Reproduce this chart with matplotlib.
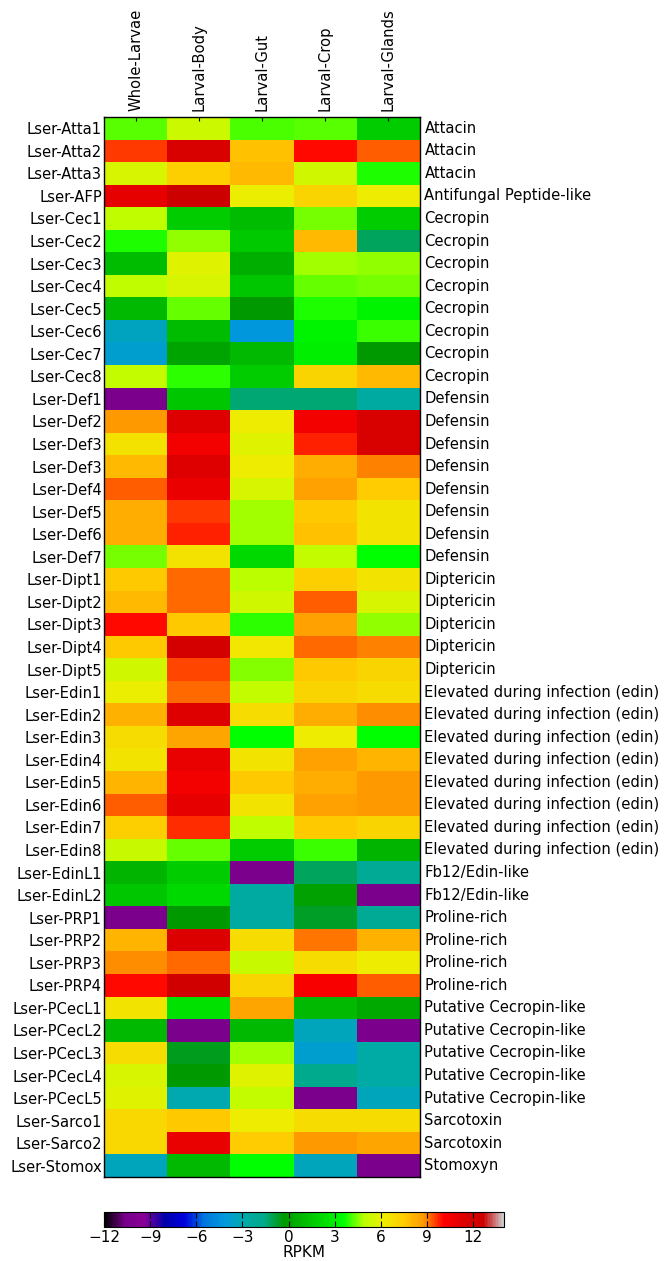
import numpy as np
import matplotlib
matplotlib.use("Agg")
import matplotlib.pyplot as plt

# tissues (columns) and genes (rows)
tissues = ["Whole-Larvae", "Larval-Body", "Larval-Gut", "Larval-Crop", "Larval-Glands"]

genes = ["Lser-Atta1", "Lser-Atta2", "Lser-Atta3", "Lser-AFP",
         "Lser-Cec1", "Lser-Cec2", "Lser-Cec3", "Lser-Cec4", "Lser-Cec5", "Lser-Cec6", "Lser-Cec7", "Lser-Cec8",
         "Lser-Def1", "Lser-Def2", "Lser-Def3", "Lser-Def3", "Lser-Def4", "Lser-Def5", "Lser-Def6", "Lser-Def7",
         "Lser-Dipt1", "Lser-Dipt2", "Lser-Dipt3", "Lser-Dipt4", "Lser-Dipt5",
         "Lser-Edin1", "Lser-Edin2", "Lser-Edin3", "Lser-Edin4", "Lser-Edin5", "Lser-Edin6", "Lser-Edin7", "Lser-Edin8",
         "Lser-EdinL1", "Lser-EdinL2",
         "Lser-PRP1", "Lser-PRP2", "Lser-PRP3", "Lser-PRP4",
         "Lser-PCecL1", "Lser-PCecL2", "Lser-PCecL3", "Lser-PCecL4", "Lser-PCecL5",
         "Lser-Sarco1", "Lser-Sarco2", "Lser-Stomox"]

families = ["Attacin", "Attacin", "Attacin", "Antifungal Peptide-like"] + ["Cecropin"] * 8 + \
           ["Defensin"] * 8 + ["Diptericin"] * 5 + ["Elevated during infection (edin)"] * 8 + \
           ["Fb12/Edin-like"] * 2 + ["Proline-rich"] * 4 + ["Putative Cecropin-like"] * 5 + \
           ["Sarcotoxin", "Sarcotoxin", "Stomoxyn"]

# RPKM values (log scale)
whole_larvae = [4.2, 9.6, 5.6, 11.0, 5.0, 3.8, 1.1, 5.0, 0.9, -3.4, -3.8, 5.1,
                -10.3, 8.8, 6.6, 8.0, 9.3, 8.3, 8.3, 4.4,
                7.5, 8.0, 10.0, 7.6, 5.4,
                6.1, 8.2, 6.8, 6.5, 8.1, 9.3, 7.3, 5.2,
                0.7, 1.5,
                -10.3, 8.1, 8.9, 10.0,
                6.5, 0.9, 6.8, 5.6, 5.8,
                7.0, 7.0, -3.3]
larval_body = [5.3, 11.6, 7.3, 12.5, 1.7, 4.6, 5.8, 5.6, 4.3, 1.0, 0.1, 3.9,
               1.5, 11.3, 10.5, 11.3, 10.8, 9.6, 9.8, 6.6,
               9.2, 9.2, 7.5, 12.0, 9.5,
               9.2, 11.3, 8.5, 10.9, 10.5, 11.0, 9.7, 4.3,
               1.7, 2.2,
               -0.3, 11.4, 9.2, 12.2,
               2.5, -10.3, -0.6, -0.3, -3.0,
               7.6, 10.9, 0.9]
larval_gut = [4.1, 7.8, 8.0, 6.1, 1.1, 1.6, 0.5, 1.5, -0.3, -4.2, 0.9, 1.7,
              -1.4, 6.2, 5.8, 6.2, 5.6, 4.7, 4.7, 2.2,
              4.9, 5.4, 3.9, 6.4, 4.5,
              5.1, 6.8, 3.6, 6.5, 7.5, 6.5, 5.0, 1.7,
              -10.3, -2.5,
              -2.5, 6.8, 5.2, 7.1,
              8.5, 0.9, 4.7, 5.8, 5.1,
              6.2, 7.4, 3.6]
larval_crop = [4.2, 10.0, 5.4, 7.1, 4.4, 8.0, 4.7, 4.3, 3.8, 3.2, 3.0, 7.1,
               -1.4, 10.5, 9.8, 8.3, 8.6, 7.5, 7.8, 5.1,
               7.3, 9.3, 8.6, 9.2, 7.6,
               7.1, 8.3, 6.2, 8.6, 8.3, 8.6, 7.5, 4.0,
               -1.2, 0.0,
               -0.7, 9.1, 6.8, 10.3,
               0.9, -3.3, -3.8, -1.8, -10.3,
               6.8, 8.8, -3.3]
larval_glands = [1.7, 9.3, 3.8, 6.2, 1.7, -1.2, 4.6, 4.4, 3.2, 4.0, -0.3, 8.0,
                 -2.5, 11.6, 11.6, 9.0, 7.4, 6.5, 6.5, 3.6,
                 6.5, 5.6, 4.6, 9.0, 7.1,
                 6.8, 8.9, 3.6, 8.1, 8.8, 8.8, 7.1, 0.7,
                 -2.1, -10.3,
                 -2.1, 8.2, 6.2, 9.3,
                 0.3, -10.3, -2.7, -2.7, -3.3,
                 6.8, 8.5, -10.3]

cb_ticks = [-12, -9, -6, -3, 0, 3, 6, 9, 12]

data = np.array([whole_larvae, larval_body, larval_gut, larval_crop, larval_glands]).T

fs = 10.6

fig = plt.figure(figsize=(6.66, 12.61), dpi=100)
ax = fig.add_axes([104 / 666, 1 - 1177 / 1261, 316 / 666, 1060 / 1261])
im = ax.imshow(data, cmap="nipy_spectral", vmin=-12, vmax=14,
               aspect="auto", interpolation="nearest")

ax.set_xticks(range(len(tissues)))
ax.set_xticklabels(tissues, rotation=90, fontsize=fs)
ax.xaxis.tick_top()
ax.set_yticks(range(len(genes)))
ax.set_yticklabels(genes, fontsize=fs)
ax.tick_params(axis="y", length=0, pad=1.5)
ax.tick_params(axis="x", direction="in", length=3, pad=4, top=True, bottom=False)
for sp in ax.spines.values():
    sp.set_linewidth(1.0)

# gene family names on the right
for i, fam in enumerate(families):
    ax.text(4.57, i, fam, fontsize=fs, va="center", ha="left")

# colorbar
cax = fig.add_axes([104 / 666, 1 - 1227 / 1261, 400 / 666, 15 / 1261])
cb = fig.colorbar(im, cax=cax, orientation="horizontal", ticks=cb_ticks)
cb.ax.tick_params(direction="in", length=4, labelsize=11, top=True, bottom=True, pad=2)
cb.set_label("RPKM", fontsize=11, labelpad=0)

fig.savefig("out.png", dpi=100)
